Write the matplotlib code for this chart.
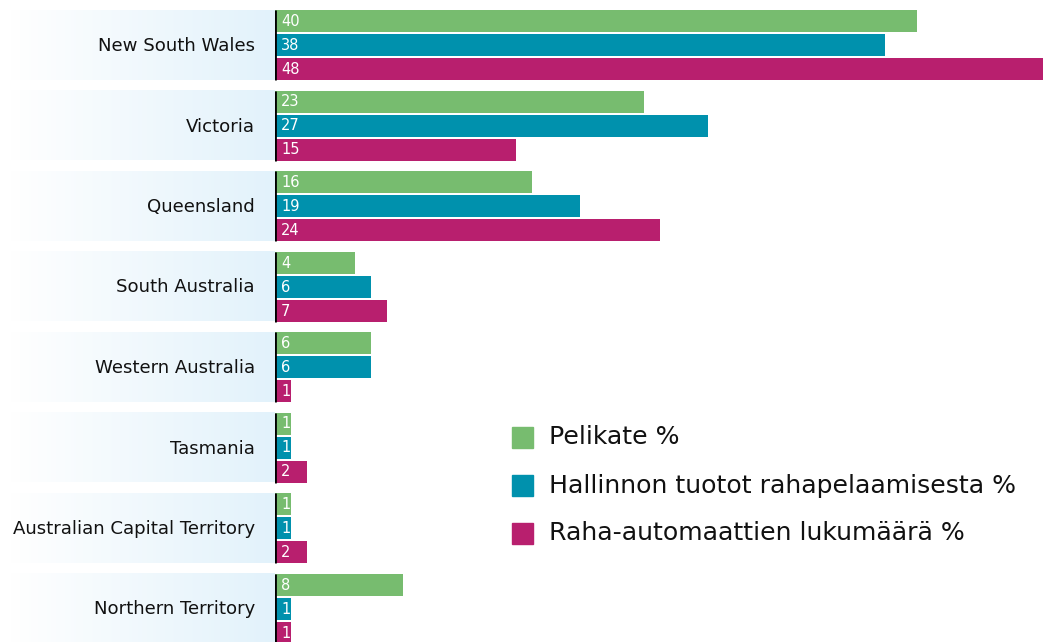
import numpy as np
import matplotlib
matplotlib.use("Agg")
import matplotlib.pyplot as plt
from matplotlib.colors import LinearSegmentedColormap

regions = ["New South Wales", "Victoria", "Queensland", "South Australia",
           "Western Australia", "Tasmania", "Australian Capital Territory",
           "Northern Territory"]
# bar lengths as drawn
pelikate = [40, 23, 16, 5, 6, 1, 1, 8]
hallinnon = [38, 27, 19, 6, 6, 1, 1, 1]
automaatit = [48, 15, 24, 7, 1, 2, 2, 1]
# value labels as printed on the bars
pelikate_labels = ["40", "23", "16", "4", "6", "1", "1", "8"]
hallinnon_labels = ["38", "27", "19", "6", "6", "1", "1", "1"]
automaatit_labels = ["48", "15", "24", "7", "1", "2", "2", "1"]
series_names = ["Pelikate %", "Hallinnon tuotot rahapelaamisesta %",
                "Raha-automaattien lukumäärä %"]
colors = ["#77bc6f", "#0091ad", "#b81f6e"]

plt.rcParams["font.family"] = ["DejaVu Sans"]

W, H = 1043, 642
AX0 = 275
PX_PER_UNIT = 16.05
PITCH = 80.5
TOP0 = 10
BAR_H = 22
BAR_STEP = 24

fig = plt.figure(figsize=(W / 100, H / 100), dpi=100)
bg = fig.add_axes([0, 0, 1, 1])
bg.set_xlim(0, W)
bg.set_ylim(H, 0)
bg.axis("off")

ax = fig.add_axes([AX0 / W, 0, (W - AX0) / W, 1])
ax.set_xlim(0, (W - AX0) / PX_PER_UNIT)
ax.set_ylim(H, 0)
ax.axis("off")
ax.patch.set_alpha(0)

cmap = LinearSegmentedColormap.from_list("band", ["#ffffff", "#e2f2fb"])
grad = np.linspace(0, 1, 256)[None, :]

series = [pelikate, hallinnon, automaatit]
labels = [pelikate_labels, hallinnon_labels, automaatit_labels]
idx = np.arange(len(regions))
tops = TOP0 + idx * PITCH
for i, top in enumerate(tops):
    bg.imshow(grad, extent=(10, AX0, top + 3 * BAR_STEP - 2, top), cmap=cmap,
              aspect="auto", zorder=0)
    bg.text(AX0 - 20, top + 36, regions[i], ha="right", va="center",
            fontsize=13.1, color="#111111")

for j, vals in enumerate(series):
    ys = tops + BAR_H / 2 + j * BAR_STEP
    ax.barh(ys, vals, height=BAR_H, color=colors[j], left=0, zorder=2)
    for y, lab in zip(ys, labels[j]):
        ax.text(0.37, y + 0.5, lab, color="white", ha="left", va="center",
                fontsize=10.5, zorder=3)

ax.vlines(np.zeros(len(regions)), tops, tops + 3 * BAR_STEP - 2, color="black",
          lw=2, zorder=4)

# legend
for j, name in enumerate(series_names):
    y = 437.5 + j * 48
    bg.add_patch(plt.Rectangle((512, y - 10.5), 21, 21, color=colors[j]))
    bg.text(549, y, name, ha="left", va="center", fontsize=18.1, color="#111111")

fig.savefig("out.png", dpi=100)
